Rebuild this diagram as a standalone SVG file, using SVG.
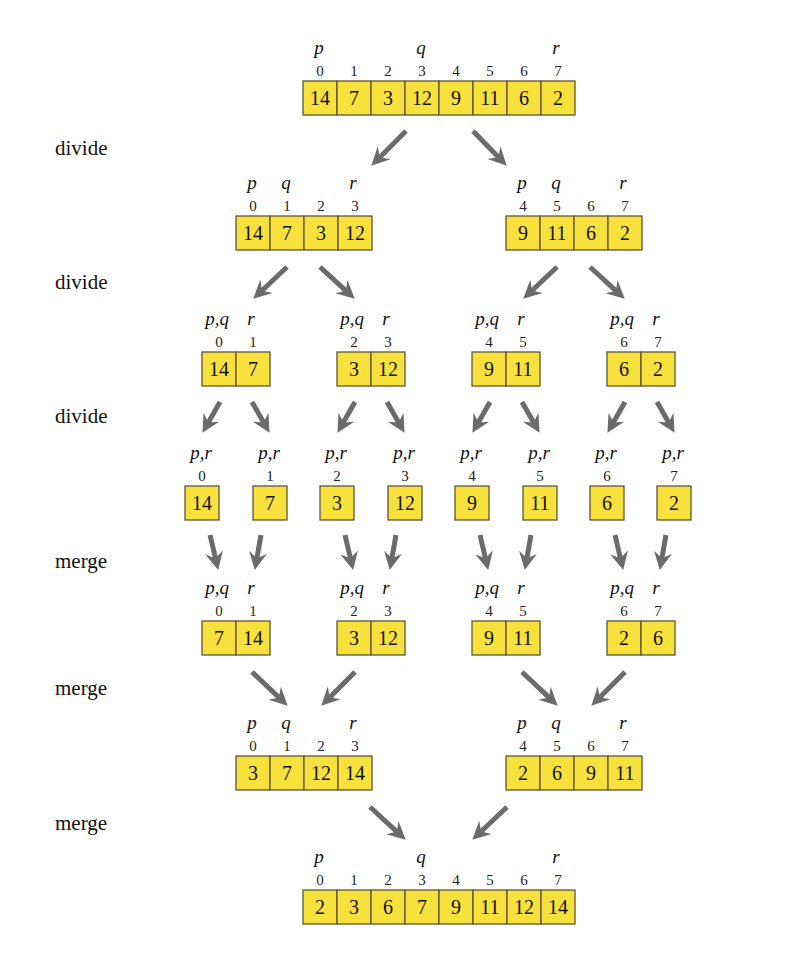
<svg xmlns="http://www.w3.org/2000/svg" width="796" height="961" viewBox="0 0 796 961">
<style>
  .bg{fill:#ffffff}
  .cell{fill:#f8e13c;stroke:#5b5636;stroke-width:1.3}
  text{font-family:'Liberation Serif','Times New Roman','DejaVu Serif',serif}
  .num{font-size:20px;fill:#111;text-anchor:middle}
  .idx{font-size:15px;fill:#222;text-anchor:middle}
  .lbl{font-size:19px;font-style:italic;fill:#111;text-anchor:middle}
  .step{font-size:21px;fill:#111}
  .arr{stroke:#6b6b6b;stroke-width:5;fill:none;marker-end:url(#head)}
</style>
<defs>
  <marker id="head" markerUnits="userSpaceOnUse" viewBox="0 -9 18 18" markerWidth="18" markerHeight="18" refX="7" refY="0" orient="auto" overflow="visible">
    <path d="M0,-9 L18,0 L0,9 L6,0 Z" fill="#6b6b6b"/>
  </marker>
</defs>
<rect class="bg" x="0" y="0" width="796" height="961"/>

<g id="steps">
  <text class="step" x="55" y="155">divide</text>
  <text class="step" x="55" y="289">divide</text>
  <text class="step" x="55" y="423">divide</text>
  <text class="step" x="55" y="568">merge</text>
  <text class="step" x="55" y="695">merge</text>
  <text class="step" x="55" y="830">merge</text>
</g>

<!-- Level 1 -->
<g id="n-top">
  <rect class="cell" x="303" y="81" width="34" height="34"/><rect class="cell" x="337" y="81" width="34" height="34"/>
  <rect class="cell" x="371" y="81" width="34" height="34"/><rect class="cell" x="405" y="81" width="34" height="34"/>
  <rect class="cell" x="439" y="81" width="34" height="34"/><rect class="cell" x="473" y="81" width="34" height="34"/>
  <rect class="cell" x="507" y="81" width="34" height="34"/><rect class="cell" x="541" y="81" width="34" height="34"/>
  <text class="num" x="320" y="105">14</text><text class="num" x="354" y="105">7</text><text class="num" x="388" y="105">3</text><text class="num" x="422" y="105">12</text>
  <text class="num" x="456" y="105">9</text><text class="num" x="490" y="105">11</text><text class="num" x="524" y="105">6</text><text class="num" x="558" y="105">2</text>
  <text class="idx" x="320" y="76">0</text><text class="idx" x="354" y="76">1</text><text class="idx" x="388" y="76">2</text><text class="idx" x="422" y="76">3</text>
  <text class="idx" x="456" y="76">4</text><text class="idx" x="490" y="76">5</text><text class="idx" x="524" y="76">6</text><text class="idx" x="558" y="76">7</text>
  <text class="lbl" x="319" y="54">p</text><text class="lbl" x="421" y="54">q</text><text class="lbl" x="556" y="54">r</text>
</g>

<!-- Level 2 -->
<g id="n-d1-left">
  <rect class="cell" x="236" y="216" width="34" height="34"/><rect class="cell" x="270" y="216" width="34" height="34"/>
  <rect class="cell" x="304" y="216" width="34" height="34"/><rect class="cell" x="338" y="216" width="34" height="34"/>
  <text class="num" x="253" y="240">14</text><text class="num" x="287" y="240">7</text><text class="num" x="321" y="240">3</text><text class="num" x="355" y="240">12</text>
  <text class="idx" x="253" y="211">0</text><text class="idx" x="287" y="211">1</text><text class="idx" x="321" y="211">2</text><text class="idx" x="355" y="211">3</text>
  <text class="lbl" x="252" y="189">p</text><text class="lbl" x="286" y="189">q</text><text class="lbl" x="353" y="189">r</text>
</g>
<g id="n-d1-right">
  <rect class="cell" x="506" y="216" width="34" height="34"/><rect class="cell" x="540" y="216" width="34" height="34"/>
  <rect class="cell" x="574" y="216" width="34" height="34"/><rect class="cell" x="608" y="216" width="34" height="34"/>
  <text class="num" x="523" y="240">9</text><text class="num" x="557" y="240">11</text><text class="num" x="591" y="240">6</text><text class="num" x="625" y="240">2</text>
  <text class="idx" x="523" y="211">4</text><text class="idx" x="557" y="211">5</text><text class="idx" x="591" y="211">6</text><text class="idx" x="625" y="211">7</text>
  <text class="lbl" x="522" y="189">p</text><text class="lbl" x="556" y="189">q</text><text class="lbl" x="623" y="189">r</text>
</g>

<!-- Level 3 -->
<g id="n-d2-a">
  <rect class="cell" x="202" y="352" width="34" height="34"/><rect class="cell" x="236" y="352" width="34" height="34"/>
  <text class="num" x="219" y="376">14</text><text class="num" x="253" y="376">7</text>
  <text class="idx" x="219" y="347">0</text><text class="idx" x="253" y="347">1</text>
  <text class="lbl" x="217" y="325">p,q</text><text class="lbl" x="251" y="325">r</text>
</g>
<g id="n-d2-b">
  <rect class="cell" x="337" y="352" width="34" height="34"/><rect class="cell" x="371" y="352" width="34" height="34"/>
  <text class="num" x="354" y="376">3</text><text class="num" x="388" y="376">12</text>
  <text class="idx" x="354" y="347">2</text><text class="idx" x="388" y="347">3</text>
  <text class="lbl" x="352" y="325">p,q</text><text class="lbl" x="386" y="325">r</text>
</g>
<g id="n-d2-c">
  <rect class="cell" x="472" y="352" width="34" height="34"/><rect class="cell" x="506" y="352" width="34" height="34"/>
  <text class="num" x="489" y="376">9</text><text class="num" x="523" y="376">11</text>
  <text class="idx" x="489" y="347">4</text><text class="idx" x="523" y="347">5</text>
  <text class="lbl" x="487" y="325">p,q</text><text class="lbl" x="521" y="325">r</text>
</g>
<g id="n-d2-d">
  <rect class="cell" x="607" y="352" width="34" height="34"/><rect class="cell" x="641" y="352" width="34" height="34"/>
  <text class="num" x="624" y="376">6</text><text class="num" x="658" y="376">2</text>
  <text class="idx" x="624" y="347">6</text><text class="idx" x="658" y="347">7</text>
  <text class="lbl" x="622" y="325">p,q</text><text class="lbl" x="656" y="325">r</text>
</g>

<!-- Level 4 -->
<g id="n-s0"><rect class="cell" x="185" y="486" width="34" height="34"/><text class="num" x="202" y="510">14</text><text class="idx" x="202" y="481">0</text><text class="lbl" x="201" y="459">p,r</text></g>
<g id="n-s1"><rect class="cell" x="253" y="486" width="34" height="34"/><text class="num" x="270" y="510">7</text><text class="idx" x="270" y="481">1</text><text class="lbl" x="269" y="459">p,r</text></g>
<g id="n-s2"><rect class="cell" x="320" y="486" width="34" height="34"/><text class="num" x="337" y="510">3</text><text class="idx" x="337" y="481">2</text><text class="lbl" x="336" y="459">p,r</text></g>
<g id="n-s3"><rect class="cell" x="388" y="486" width="34" height="34"/><text class="num" x="405" y="510">12</text><text class="idx" x="405" y="481">3</text><text class="lbl" x="404" y="459">p,r</text></g>
<g id="n-s4"><rect class="cell" x="455" y="486" width="34" height="34"/><text class="num" x="472" y="510">9</text><text class="idx" x="472" y="481">4</text><text class="lbl" x="471" y="459">p,r</text></g>
<g id="n-s5"><rect class="cell" x="523" y="486" width="34" height="34"/><text class="num" x="540" y="510">11</text><text class="idx" x="540" y="481">5</text><text class="lbl" x="539" y="459">p,r</text></g>
<g id="n-s6"><rect class="cell" x="590" y="486" width="34" height="34"/><text class="num" x="607" y="510">6</text><text class="idx" x="607" y="481">6</text><text class="lbl" x="606" y="459">p,r</text></g>
<g id="n-s7"><rect class="cell" x="657" y="486" width="34" height="34"/><text class="num" x="674" y="510">2</text><text class="idx" x="674" y="481">7</text><text class="lbl" x="673" y="459">p,r</text></g>

<!-- Level 5 -->
<g id="n-m1-a">
  <rect class="cell" x="202" y="621" width="34" height="34"/><rect class="cell" x="236" y="621" width="34" height="34"/>
  <text class="num" x="219" y="645">7</text><text class="num" x="253" y="645">14</text>
  <text class="idx" x="219" y="616">0</text><text class="idx" x="253" y="616">1</text>
  <text class="lbl" x="217" y="594">p,q</text><text class="lbl" x="251" y="594">r</text>
</g>
<g id="n-m1-b">
  <rect class="cell" x="337" y="621" width="34" height="34"/><rect class="cell" x="371" y="621" width="34" height="34"/>
  <text class="num" x="354" y="645">3</text><text class="num" x="388" y="645">12</text>
  <text class="idx" x="354" y="616">2</text><text class="idx" x="388" y="616">3</text>
  <text class="lbl" x="352" y="594">p,q</text><text class="lbl" x="386" y="594">r</text>
</g>
<g id="n-m1-c">
  <rect class="cell" x="472" y="621" width="34" height="34"/><rect class="cell" x="506" y="621" width="34" height="34"/>
  <text class="num" x="489" y="645">9</text><text class="num" x="523" y="645">11</text>
  <text class="idx" x="489" y="616">4</text><text class="idx" x="523" y="616">5</text>
  <text class="lbl" x="487" y="594">p,q</text><text class="lbl" x="521" y="594">r</text>
</g>
<g id="n-m1-d">
  <rect class="cell" x="607" y="621" width="34" height="34"/><rect class="cell" x="641" y="621" width="34" height="34"/>
  <text class="num" x="624" y="645">2</text><text class="num" x="658" y="645">6</text>
  <text class="idx" x="624" y="616">6</text><text class="idx" x="658" y="616">7</text>
  <text class="lbl" x="622" y="594">p,q</text><text class="lbl" x="656" y="594">r</text>
</g>

<!-- Level 6 -->
<g id="n-m2-left">
  <rect class="cell" x="236" y="756" width="34" height="34"/><rect class="cell" x="270" y="756" width="34" height="34"/>
  <rect class="cell" x="304" y="756" width="34" height="34"/><rect class="cell" x="338" y="756" width="34" height="34"/>
  <text class="num" x="253" y="780">3</text><text class="num" x="287" y="780">7</text><text class="num" x="321" y="780">12</text><text class="num" x="355" y="780">14</text>
  <text class="idx" x="253" y="751">0</text><text class="idx" x="287" y="751">1</text><text class="idx" x="321" y="751">2</text><text class="idx" x="355" y="751">3</text>
  <text class="lbl" x="252" y="729">p</text><text class="lbl" x="286" y="729">q</text><text class="lbl" x="353" y="729">r</text>
</g>
<g id="n-m2-right">
  <rect class="cell" x="506" y="756" width="34" height="34"/><rect class="cell" x="540" y="756" width="34" height="34"/>
  <rect class="cell" x="574" y="756" width="34" height="34"/><rect class="cell" x="608" y="756" width="34" height="34"/>
  <text class="num" x="523" y="780">2</text><text class="num" x="557" y="780">6</text><text class="num" x="591" y="780">9</text><text class="num" x="625" y="780">11</text>
  <text class="idx" x="523" y="751">4</text><text class="idx" x="557" y="751">5</text><text class="idx" x="591" y="751">6</text><text class="idx" x="625" y="751">7</text>
  <text class="lbl" x="522" y="729">p</text><text class="lbl" x="556" y="729">q</text><text class="lbl" x="623" y="729">r</text>
</g>

<!-- Level 7 -->
<g id="n-bottom">
  <rect class="cell" x="303" y="890" width="34" height="34"/><rect class="cell" x="337" y="890" width="34" height="34"/>
  <rect class="cell" x="371" y="890" width="34" height="34"/><rect class="cell" x="405" y="890" width="34" height="34"/>
  <rect class="cell" x="439" y="890" width="34" height="34"/><rect class="cell" x="473" y="890" width="34" height="34"/>
  <rect class="cell" x="507" y="890" width="34" height="34"/><rect class="cell" x="541" y="890" width="34" height="34"/>
  <text class="num" x="320" y="914">2</text><text class="num" x="354" y="914">3</text><text class="num" x="388" y="914">6</text><text class="num" x="422" y="914">7</text>
  <text class="num" x="456" y="914">9</text><text class="num" x="490" y="914">11</text><text class="num" x="524" y="914">12</text><text class="num" x="558" y="914">14</text>
  <text class="idx" x="320" y="885">0</text><text class="idx" x="354" y="885">1</text><text class="idx" x="388" y="885">2</text><text class="idx" x="422" y="885">3</text>
  <text class="idx" x="456" y="885">4</text><text class="idx" x="490" y="885">5</text><text class="idx" x="524" y="885">6</text><text class="idx" x="558" y="885">7</text>
  <text class="lbl" x="319" y="863">p</text><text class="lbl" x="421" y="863">q</text><text class="lbl" x="556" y="863">r</text>
</g>

<g id="connectors">
  <line class="arr" x1="406" y1="131" x2="379.1" y2="157.9"/>
  <line class="arr" x1="473" y1="131" x2="499" y2="157.8"/>

  <line class="arr" x1="287" y1="267" x2="261.3" y2="291.2"/>
  <line class="arr" x1="320" y1="267" x2="346.6" y2="291.3"/>
  <line class="arr" x1="557" y1="267" x2="531.3" y2="291.2"/>
  <line class="arr" x1="590" y1="267" x2="616.6" y2="291.3"/>

  <line class="arr" x1="220" y1="402" x2="207.9" y2="423.3"/>
  <line class="arr" x1="252" y1="402" x2="264.1" y2="423.3"/>
  <line class="arr" x1="355" y1="402" x2="342.9" y2="423.3"/>
  <line class="arr" x1="387" y1="402" x2="399.1" y2="423.3"/>
  <line class="arr" x1="490" y1="402" x2="477.9" y2="423.3"/>
  <line class="arr" x1="522" y1="402" x2="534.1" y2="423.3"/>
  <line class="arr" x1="625" y1="402" x2="612.9" y2="423.3"/>
  <line class="arr" x1="657" y1="402" x2="669.1" y2="423.3"/>

  <line class="arr" x1="210" y1="535" x2="215.7" y2="559.3"/>
  <line class="arr" x1="261" y1="535" x2="256.7" y2="559.2"/>
  <line class="arr" x1="345" y1="535" x2="350.7" y2="559.3"/>
  <line class="arr" x1="396" y1="535" x2="391.7" y2="559.2"/>
  <line class="arr" x1="480" y1="535" x2="485.7" y2="559.3"/>
  <line class="arr" x1="531" y1="535" x2="526.7" y2="559.2"/>
  <line class="arr" x1="615" y1="535" x2="620.7" y2="559.3"/>
  <line class="arr" x1="666" y1="535" x2="661.7" y2="559.2"/>

  <line class="arr" x1="252" y1="672" x2="279.7" y2="698.1"/>
  <line class="arr" x1="355" y1="672" x2="329.1" y2="697.9"/>
  <line class="arr" x1="522" y1="672" x2="549.7" y2="698.1"/>
  <line class="arr" x1="625" y1="672" x2="599.1" y2="697.9"/>

  <line class="arr" x1="370" y1="807" x2="397.6" y2="832.3"/>
  <line class="arr" x1="507" y1="807" x2="480.3" y2="832.2"/>
</g>
</svg>
